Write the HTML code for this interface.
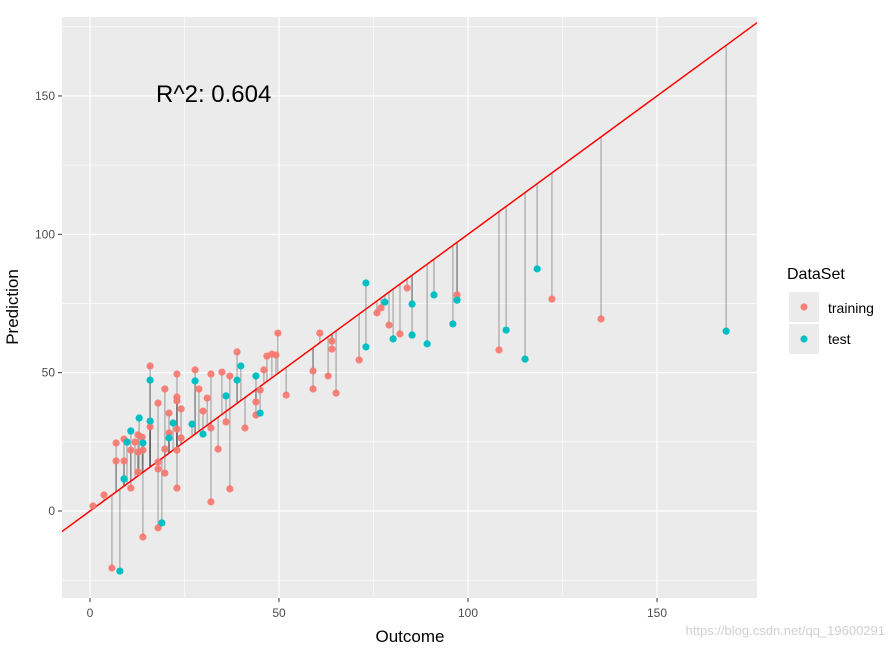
<!DOCTYPE html>
<html><head><meta charset="utf-8"><style>
body{margin:0;background:#fff;}
svg text{font-family:"Liberation Sans",sans-serif;}
</style></head><body>
<svg id="chart" width="893" height="648" xmlns="http://www.w3.org/2000/svg">
<defs><clipPath id="pc"><rect x="62" y="17" width="695" height="581"/></clipPath></defs>
<rect x="62" y="17" width="695" height="581" fill="#EBEBEB"/>
<g id="grid"></g>
<g id="segs" clip-path="url(#pc)"></g>
<line id="fitline" stroke="#FF0000" stroke-width="1.5" clip-path="url(#pc)"/>
<g id="pts"></g>
<g id="ticks"></g>
<text x="156" y="102" font-size="24" fill="#000">R^2: 0.604</text>
<text x="410" y="642" font-size="17" text-anchor="middle" fill="#000">Outcome</text>
<text x="18" y="307" font-size="17" text-anchor="middle" fill="#000" transform="rotate(-90 18 307)">Prediction</text>
<g>
<text x="787" y="279" font-size="16" fill="#000">DataSet</text>
<rect x="789" y="292" width="30" height="30" fill="#EBEBEB"/>
<circle cx="804" cy="307" r="3.6" fill="#F8766D" opacity="0.9"/>
<text x="828" y="313" font-size="14" fill="#000">training</text>
<rect x="789" y="324" width="30" height="30" fill="#EBEBEB"/>
<circle cx="804" cy="339" r="3.6" fill="#00BFC4"/>
<text x="828" y="344" font-size="14" fill="#000">test</text>
</g>
<text x="885" y="635" font-size="13" text-anchor="end" fill="#d0d0d0">https://blog.csdn.net/qq_19600291</text>
</svg>
<script>
const xTicks=[0,50,100,150];
const yTicks=[0,50,100,150];
const xMinor=[25,75,125];
const yMinor=[-25,25,75,125,175];
const trainX=[0.8,3.7,5.8,6.9,6.9,9.0,9.0,10.8,10.8,11.9,12.7,12.7,13.8,14.0,12.7,14.0,15.9,15.9,18.0,18.0,18.0,18.0,19.8,19.8,19.8,20.9,20.9,23.0,23.0,23.0,24.1,23.0,24.1,23.0,23.0,27.8,28.8,29.9,31.0,32.0,32.0,32.0,33.9,34.9,36.0,37.0,37.0,38.9,41.0,43.9,43.9,45.0,46.0,46.8,48.1,49.2,49.7,51.9,59.0,59.0,60.8,63.0,64.0,64.0,65.1,71.2,75.9,77.0,79.1,82.0,83.9,97.1,108.2,122.2,135.2];
const trainY=[1.8,5.8,-20.6,24.6,18.1,18.1,26.0,8.3,22.0,24.9,27.5,21.3,26.7,22.0,14.1,-9.4,52.4,30.4,39.0,17.7,15.2,-6.1,44.1,13.7,22.4,35.4,28.2,49.5,41.2,39.8,36.9,29.6,26.4,22.0,8.3,51.0,44.1,36.1,40.8,49.5,30.0,3.3,22.4,50.2,32.2,48.8,8.0,57.5,30.0,39.4,34.7,43.7,51.0,56.0,56.7,56.4,64.3,41.9,50.6,44.1,64.3,48.8,61.4,58.5,42.6,54.6,71.6,73.4,67.2,64.0,80.6,78.1,58.2,76.6,69.4];
const testX=[7.9,9.0,9.8,10.8,13.0,14.0,15.9,15.9,19.0,22.0,20.9,27.0,27.8,29.9,36.0,38.9,39.9,43.9,45.0,73.0,73.0,78.0,80.2,85.2,85.2,89.2,91.0,96.0,97.1,110.1,115.1,118.3,168.3];
const testY=[-21.7,11.6,24.9,28.9,33.6,24.6,47.3,32.5,-4.3,31.8,26.4,31.4,47.0,27.8,41.6,47.3,52.4,48.8,35.4,82.4,59.3,75.5,62.2,74.8,63.6,60.4,78.1,67.6,76.2,65.4,54.9,87.5,65.0];

const NS="http://www.w3.org/2000/svg";
const sx=v=>90+v*3.78, sy=v=>511-v*2.767;
function mk(tag,attrs,parent){const e=document.createElementNS(NS,tag);for(const k in attrs)e.setAttribute(k,attrs[k]);document.getElementById(parent).appendChild(e);return e;}
xMinor.forEach(v=>{const e=mk('line',{x1:sx(v),x2:sx(v),y1:17,y2:598,stroke:'#fff','stroke-width':0.6},'grid');

});
yMinor.forEach(v=>{const e=mk('line',{x1:62,x2:757,y1:sy(v),y2:sy(v),stroke:'#fff','stroke-width':0.6},'grid');

});
xTicks.forEach(v=>{const e=mk('line',{x1:sx(v),x2:sx(v),y1:17,y2:598,stroke:'#fff','stroke-width':1.2},'grid');


const t=mk('line',{x1:sx(v),x2:sx(v),y1:598,y2:602,stroke:'#333','stroke-width':1},'ticks');


const l=mk('text',{x:sx(v),y:617,'font-size':12,'text-anchor':'middle',fill:'#4d4d4d'},'ticks');l.textContent=v;

});
yTicks.forEach(v=>{const e=mk('line',{x1:62,x2:757,y1:sy(v),y2:sy(v),stroke:'#fff','stroke-width':1.2},'grid');


const t=mk('line',{x1:58,x2:62,y1:sy(v),y2:sy(v),stroke:'#333','stroke-width':1},'ticks');


const l=mk('text',{x:55,y:sy(v)+4,'font-size':12,'text-anchor':'end',fill:'#4d4d4d'},'ticks');l.textContent=v;

});
const fl=document.getElementById('fitline');
fl.setAttribute('x1',sx(-10));fl.setAttribute('y1',sy(-10));fl.setAttribute('x2',sx(180));fl.setAttribute('y2',sy(180));
function series(X,Y,color,name,op){
X.forEach((x,i)=>{const s=mk('line',{x1:sx(x),x2:sx(x),y1:sy(Y[i]),y2:sy(x),stroke:'#000','stroke-opacity':0.22,'stroke-width':1.6},'segs');


const c=mk('circle',{cx:sx(x),cy:sy(Y[i]),r:3.6,fill:color,opacity:op},'pts');

});}
series(trainX,trainY,'#F8766D','training-point',0.9);
series(testX,testY,'#00BFC4','test-point',1);
</script>
</body></html>
